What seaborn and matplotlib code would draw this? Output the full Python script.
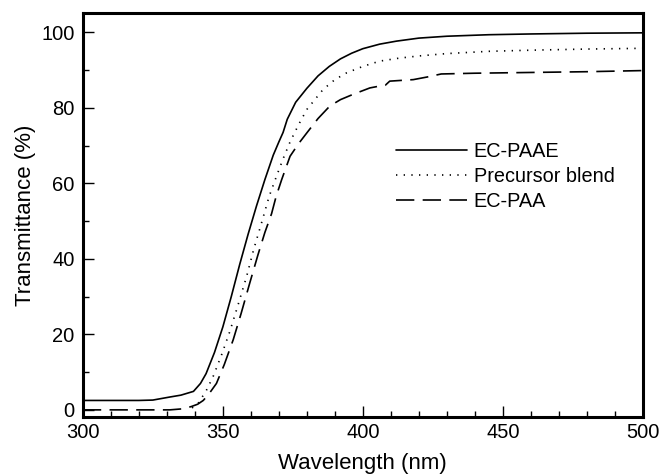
import matplotlib
matplotlib.use("Agg")
import matplotlib.pyplot as plt
from matplotlib.ticker import MultipleLocator
import seaborn as sns
import pandas as pd

# UV-vis transmittance spectra of the films
wl_paae = [300, 320, 325, 331, 335, 339.5, 342, 344, 347, 350, 353, 356, 359,
           362, 365, 368, 370, 371.5, 373, 376, 380, 384, 388, 392, 396,
           400, 406, 412, 420, 430, 445, 460, 480, 500]
t_paae = [2.5, 2.5, 2.6, 3.4, 3.9, 4.9, 7, 9.6, 15.2, 22, 30, 38.5, 46.5,
          54, 61, 67.5, 71, 73.5, 77, 81.5, 85.2, 88.5, 91, 93, 94.5,
          95.7, 96.9, 97.7, 98.5, 99, 99.4, 99.6, 99.8, 99.9]

wl_blend = [339, 341.2, 344, 346.5, 349.5, 352.5, 355.5, 358.5, 361, 364, 366.5,
            369.2, 371.5, 374, 377, 380, 385.8, 390, 394.2, 400, 406, 413,
            420.4, 430, 445, 460, 480, 500]
t_blend = [0.5, 1.8, 5, 8.8, 14.5, 20.8, 28, 35.4, 42.5, 50, 56.5,
           62, 66.5, 71, 75.5, 79.6, 84.9, 87.5, 89.3, 91, 92.4, 93.2,
           93.8, 94.4, 95, 95.3, 95.6, 95.8]

wl_paa = [300, 331, 336, 338.8, 341, 343, 345, 347.7, 350.5, 353.7, 356.5, 359.6,
          362.5, 365, 367.4, 369, 371, 374, 377, 380, 384, 388.2, 392, 396.5,
          402.5, 406, 408, 409.6, 418, 423, 428, 440, 460, 480, 500]
t_paa = [0, 0, 0.3, 0.9, 1.5, 2.5, 4.2, 7, 12, 18.6, 25.5, 33.6,
         41, 47, 52, 56.5, 61, 67.2, 70.5, 73.4, 77.2, 80.5, 82.2, 83.6,
         85.3, 85.8, 86, 87.1, 87.5, 88.2, 89, 89.2, 89.4, 89.6, 89.9]

labels = ["EC-PAAE", "Precursor blend", "EC-PAA"]
x_ticks = [300, 350, 400, 450, 500]
y_ticks = [0, 20, 40, 60, 80, 100]

frames = []
for name, wl, t in zip(labels, [wl_paae, wl_blend, wl_paa], [t_paae, t_blend, t_paa]):
    frames.append(pd.DataFrame({"Wavelength": wl, "Transmittance": t, "Sample": name}))
df = pd.concat(frames, ignore_index=True)

sns.set_theme(style="ticks")
plt.rcParams["font.family"] = ["Liberation Sans", "DejaVu Sans"]
plt.rcParams.update({"text.color": "black", "axes.labelcolor": "black",
                     "xtick.color": "black", "ytick.color": "black"})

fig = plt.figure(figsize=(6.63, 4.75), dpi=100)
ax = fig.add_axes([0.125, 0.122, 0.8446, 0.851])

line_dashes = {
    "EC-PAAE": "",
    "Precursor blend": (0.8, 3.8),
    "EC-PAA": (11.0, 5.0),
}
sns.lineplot(data=df, x="Wavelength", y="Transmittance", hue="Sample",
             style="Sample", dashes=line_dashes,
             palette={k: "black" for k in labels}, linewidth=1.2,
             estimator=None, sort=False, ax=ax)

ax.set_xlim(300, 500)
ax.set_ylim(-1.9, 105.2)
ax.set_xticks(x_ticks)
ax.set_yticks(y_ticks)
ax.xaxis.set_minor_locator(MultipleLocator(10))
ax.yaxis.set_minor_locator(MultipleLocator(10))
ax.tick_params(which="both", direction="in", top=False, right=False,
               color="black", labelcolor="black", width=1.0)
ax.tick_params(which="major", length=8, labelsize=14.5)
ax.tick_params(axis="x", which="major", pad=4)
ax.tick_params(axis="y", which="major", pad=6)
ax.tick_params(which="minor", length=4.5)
for side in ["left", "right", "top", "bottom"]:
    ax.spines[side].set_visible(True)
    ax.spines[side].set_linewidth(2.2)
    ax.spines[side].set_color("black")

ax.set_xlabel("Wavelength (nm)", fontsize=16, labelpad=8.5, color="black")
ax.set_ylabel("Transmittance (%)", fontsize=16, labelpad=3.5, color="black")

handles, lab = ax.get_legend_handles_labels()
leg = ax.legend(handles, lab, loc="upper left", bbox_to_anchor=(0.545, 0.7),
                frameon=False, fontsize=14.3, handlelength=3.57,
                handletextpad=0.35, labelspacing=0.3, borderaxespad=0)
for txt in leg.get_texts():
    txt.set_color("black")

fig.savefig("out.png", dpi=100, facecolor="white")
